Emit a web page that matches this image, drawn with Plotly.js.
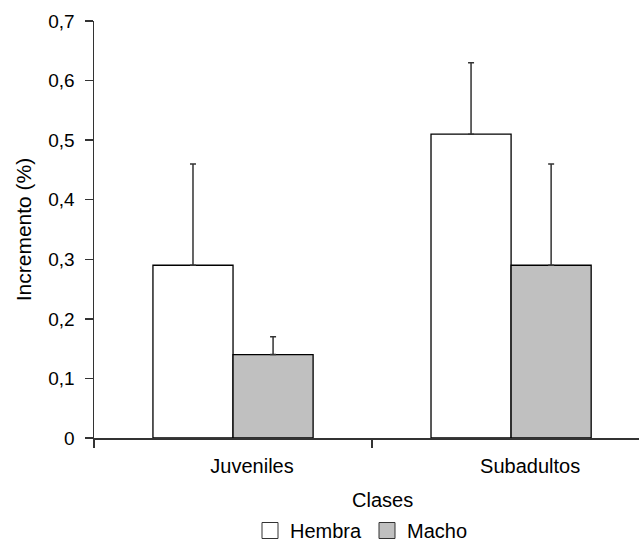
<!DOCTYPE html>
<html>
<head>
<meta charset="utf-8">
<script src="https://cdn.plot.ly/plotly-3.0.1.min.js"></script>
<style>html,body{margin:0;padding:0;background:#fff;}#chart{width:639px;height:542px;}</style>
</head>
<body>
<div id="chart"></div>
<script>
const categories = ["Juveniles", "Subadultos"];
const hembraValues = [0.29, 0.51];
const hembraErrors = [0.17, 0.12];
const machoValues = [0.14, 0.29];
const machoErrors = [0.03, 0.17];
const yTickValues = [0, 0.1, 0.2, 0.3, 0.4, 0.5, 0.6, 0.7];
const yTickLabels = ["0", "0,1", "0,2", "0,3", "0,4", "0,5", "0,6", "0,7"];
const seriesNames = ["Hembra", "Macho"];
const seriesColors = ["#ffffff", "#c0c0c0"];

const FONT = "Liberation Sans, Arial, sans-serif";

const errStyle = {type: "data", symmetric: false, visible: true, color: "#333333", thickness: 1.5, width: 3};

const traces = [
  {
    type: "bar", name: seriesNames[0], x: categories, y: hembraValues, showlegend: false,
    marker: {color: seriesColors[0], line: {color: "#000000", width: 1.3}},
    error_y: Object.assign({array: hembraErrors, arrayminus: [0, 0]}, errStyle)
  },
  {
    type: "bar", name: seriesNames[1], x: categories, y: machoValues, showlegend: false,
    marker: {color: seriesColors[1], line: {color: "#000000", width: 1.3}},
    error_y: Object.assign({array: machoErrors, arrayminus: [0, 0]}, errStyle)
  },
  // legend keys only (no data drawn)
  {
    type: "scatter", mode: "markers", name: seriesNames[0], x: [null], y: [null],
    marker: {symbol: "square", size: 19, color: seriesColors[0], line: {color: "#333333", width: 1}},
    hoverinfo: "skip"
  },
  {
    type: "scatter", mode: "markers", name: seriesNames[1], x: [null], y: [null],
    marker: {symbol: "square", size: 19, color: seriesColors[1], line: {color: "#333333", width: 1}},
    hoverinfo: "skip"
  }
];

const layout = {
  width: 639, height: 542,
  margin: {l: 94, r: 0, t: 21, b: 104},
  paper_bgcolor: "#ffffff", plot_bgcolor: "#ffffff",
  font: {family: FONT, size: 18, color: "#000000"},
  barmode: "group", bargap: 0.424, bargroupgap: 0,
  showlegend: true,
  legend: {orientation: "h", xref: "container", yref: "container",
           x: 250 / 639, xanchor: "left", y: (542 - 511) / 542, yanchor: "top",
           font: {family: FONT, size: 20, color: "#000"}, itemwidth: 30, itemsizing: "trace",
           tracegroupgap: 0, bgcolor: "rgba(0,0,0,0)"},
  xaxis: {
    type: "category", range: [-0.5, 1.46], fixedrange: true,
    showline: true, linecolor: "#333333", linewidth: 1.5,
    ticks: "outside", tickson: "boundaries", ticklen: 8, tickcolor: "#333333", tickwidth: 1.5,
    showgrid: false, zeroline: false,
    tickfont: {family: FONT, size: 20, color: "#000"},
    ticklabelshift: 19, ticklabelstandoff: 9,
    automargin: false
  },
  yaxis: {
    range: [0, 0.7], fixedrange: true,
    tickvals: yTickValues, ticktext: yTickLabels,
    showline: true, linecolor: "#333333", linewidth: 1.5,
    ticks: "outside", ticklen: 8, tickcolor: "#333333", tickwidth: 1.5,
    showgrid: false, zeroline: false,
    tickfont: {family: FONT, size: 19, color: "#000"},
    ticklabelstandoff: 6,
    title: {text: "Incremento (%)", font: {family: FONT, size: 21, color: "#000"}, standoff: 11},
    automargin: false
  },
  annotations: [
    {text: "Clases", xref: "paper", yref: "paper", x: (382 - 94) / 545, y: -0.118,
     xanchor: "center", yanchor: "top", showarrow: false,
     font: {family: FONT, size: 20, color: "#000"}}
  ]
};

Plotly.newPlot("chart", traces, layout, {displayModeBar: false, staticPlot: true});
</script>
</body>
</html>
